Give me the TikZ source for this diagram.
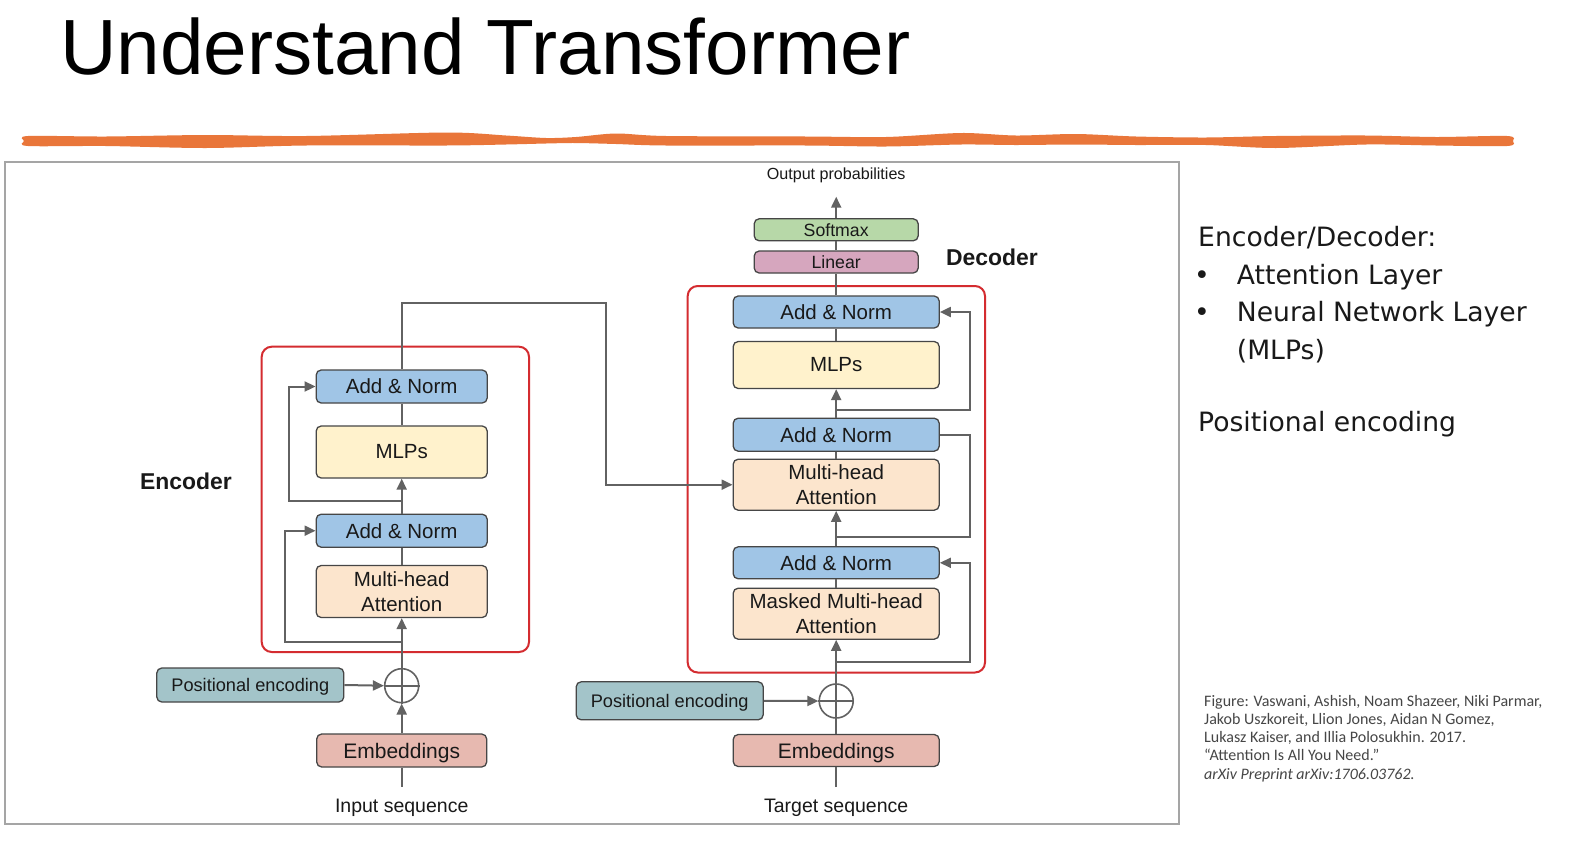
\documentclass[tikz,border=0pt]{standalone}
\usepackage{fontspec}
\setmainfont{Liberation Sans}
\newfontfamily\dfont{Liberation Sans}
\newfontfamily\rfont{DejaVu Sans}
\newfontfamily\cfont{Carlito}
\usetikzlibrary{arrows.meta,calc}
\definecolor{anc}{RGB}{160,197,230}
\definecolor{mlpc}{RGB}{255,242,204}
\definecolor{mhac}{RGB}{252,229,205}
\definecolor{softc}{RGB}{183,216,168}
\definecolor{linc}{RGB}{214,166,190}
\definecolor{pec}{RGB}{163,196,201}
\definecolor{embc}{RGB}{231,185,176}
\definecolor{redc}{RGB}{212,44,48}
\definecolor{orangec}{RGB}{233,118,58}
\definecolor{bordc}{RGB}{70,70,70}
\definecolor{linec}{RGB}{98,98,98}
\definecolor{txtc}{RGB}{25,25,25}
\definecolor{framec}{RGB}{165,165,165}
\definecolor{citec}{RGB}{70,70,70}
\tikzset{
  blk/.style={draw=bordc, line width=1.3pt, rounded corners=5pt, inner sep=0pt,
    align=center, text=txtc, font=\dfont\fontsize{20.5}{24.5}\selectfont},
  anbox/.style={blk, fill=anc},
  mlpbox/.style={blk, fill=mlpc},
  mhabox/.style={blk, fill=mhac},
  pebox/.style={blk, fill=pec, text depth=0pt, font=\dfont\fontsize{18.2}{22}\selectfont},
  embbox/.style={blk, fill=embc, text depth=0pt, font=\dfont\fontsize{21}{25}\selectfont},
  smallbox/.style={blk, font=\dfont\fontsize{17.7}{21}\selectfont},
  sumc/.style={circle, draw=linec, line width=1.6pt, minimum size=34pt, inner sep=0pt, fill=white},
  conn/.style={draw=linec, line width=2pt},
  arr/.style={conn, -{Triangle[length=11pt,width=10pt]}},
  lbl/.style={inner sep=0pt, text=txtc, font=\dfont\fontsize{19.5}{23}\selectfont},
  bold/.style={inner sep=0pt, text=txtc, font=\dfont\bfseries\fontsize{22.9}{26}\selectfont},
  redbox/.style={draw=redc, line width=2pt, rounded corners=10pt},
  rtext/.style={inner sep=0pt, anchor=base west, text=txtc, font=\rfont\fontsize{26.6}{30}\selectfont},
  rbul/.style={inner sep=0pt, anchor=base, text=txtc, font=\rfont\fontsize{26.6}{30}\selectfont},
  ctext/.style={inner sep=0pt, anchor=base west, text=citec, font=\cfont\fontsize{16}{18}\selectfont},
}
\begin{document}
\begin{tikzpicture}[x=1pt,y=-1pt]
\useasboundingbox (0,0) rectangle (1582,844);
\fill[white] (0,0) rectangle (1582,844);

% title
\node[inner sep=0pt, anchor=base west, font=\dfont\fontsize{78.3}{90}\selectfont] (title) at (60,74) {Understand Transformer};

% orange wavy line
\fill[orangec] plot[smooth cycle] coordinates {
 (28,136) (106,136.5) (206,135) (306,136) (446,132.5) (506,135.5) (546,138) (576,137) (616,133.5)
 (666,136) (806,136.5) (886,137) (961,133) (1016,135.5) (1076,134) (1136,136.5) (1206,137.5)
 (1276,136) (1366,135.5) (1436,137) (1507,136) (1513,141)
 (1507,146) (1436,145.5) (1366,144.5) (1276,148) (1206,145) (1136,145) (1076,144.5) (1016,145)
 (961,144.5) (886,146.5) (806,145.5) (666,145.5) (616,144) (576,143) (546,143.5) (506,144.5)
 (446,145.5) (306,145.5) (206,148) (106,146) (28,146) (24,141)};

% frame
\draw[framec, line width=1.8pt] (5,162) rectangle (1179,824);

% ---------------- Encoder ----------------
\draw[redbox] (261.7,346.7) rectangle (529,652);
\node[bold] (encl) at (186,481) {Encoder};

\node[anbox, minimum width=171pt, minimum height=33pt] (eAN2) at (401.7,386.5) {Add \& Norm};
\node[mlpbox, minimum width=171pt, minimum height=52pt] (eMLP) at (401.7,452) {MLPs};
\node[anbox, minimum width=171pt, minimum height=33pt] (eAN1) at (401.7,530.7) {Add \& Norm};
\node[mhabox, minimum width=171pt, minimum height=52pt] (eMHA) at (401.7,591.5) {Multi-head\\Attention};
\node[sumc] (eSum) at (401.7,685.7) {};
\node[pebox, minimum width=187pt, minimum height=34pt] (ePE) at (250.3,685) {Positional encoding};
\node[embbox, minimum width=170pt, minimum height=33pt] (eEmb) at (401.7,750.5) {Embeddings};
\node[lbl, anchor=base] (eIn) at (401.7,812) {Input sequence};
\coordinate (eInTop) at (401.7,786.7);

\draw[linec, line width=1.6pt] (eSum.north) -- (eSum.south) (eSum.west) -- (eSum.east);
\draw[conn] (eInTop) -- (eEmb.south);
\draw[arr] (eEmb.north) -- (eSum.south);
\draw[arr] (ePE.east) -- (eSum.west);
\draw[arr] (eSum.north) -- (eMHA.south);
\draw[conn] (eMHA.north) -- (eAN1.south);
\draw[arr] (eAN1.north) -- (eMLP.south);
\draw[conn] (eMLP.north) -- (eAN2.south);
\coordinate (eb1) at (401.7,641.7);
\coordinate (eb2) at (401.7,501);
\draw[arr] (eb1) -- ++(-116.7,0) |- (eAN1.west);
\draw[arr] (eb2) -- ++(-112.4,0) |- (eAN2.west);

% ---------------- Decoder ----------------
\draw[redbox] (687.7,286) rectangle (985,672.5);
\node[bold] (decl) at (992,257) {Decoder};

\node[smallbox, fill=softc, minimum width=164pt, minimum height=22pt] (soft) at (836.2,229.8) {Softmax};
\node[smallbox, fill=linc, minimum width=164pt, minimum height=22pt] (lin) at (836.2,262) {Linear};
\node[anbox, minimum width=206pt, minimum height=32pt] (dAN3) at (836.2,312) {Add \& Norm};
\node[mlpbox, minimum width=206pt, minimum height=47pt] (dMLP) at (836.2,365) {MLPs};
\node[anbox, minimum width=206pt, minimum height=33pt] (dAN2) at (836.2,434.7) {Add \& Norm};
\node[mhabox, minimum width=206pt, minimum height=51pt] (dMHA) at (836.2,484.7) {Multi-head\\Attention};
\node[anbox, minimum width=206pt, minimum height=32pt] (dAN1) at (836.2,562.8) {Add \& Norm};
\node[mhabox, minimum width=206pt, minimum height=51pt] (dMMHA) at (836.2,613.7) {Masked Multi-head\\Attention};
\node[sumc] (dSum) at (836.2,701) {};
\node[pebox, minimum width=187pt, minimum height=38pt] (dPE) at (669.7,700.8) {Positional encoding};
\node[embbox, minimum width=206pt, minimum height=32pt] (dEmb) at (836.2,750.5) {Embeddings};
\node[lbl, anchor=base] (dTgt) at (836.2,812) {Target sequence};
\coordinate (dInTop) at (836.2,787);
\node[inner sep=0pt, anchor=base, text=txtc, font=\dfont\fontsize{16.1}{18}\selectfont] (outp) at (836.2,179) {Output probabilities};
\coordinate (outTip) at (836.2,196.7);

\draw[linec, line width=1.6pt] (dSum.north) -- (dSum.south) (dSum.west) -- (dSum.east);
\draw[conn] (dInTop) -- (dEmb.south);
\draw[conn] (dEmb.north) -- (dSum.south);
\draw[arr] (dPE.east) -- (dSum.west);
\draw[arr] (dSum.north) -- (dMMHA.south);
\draw[conn] (dMMHA.north) -- (dAN1.south);
\draw[arr] (dAN1.north) -- (dMHA.south);
\draw[conn] (dMHA.north) -- (dAN2.south);
\draw[arr] (dAN2.north) -- (dMLP.south);
\draw[conn] (dMLP.north) -- (dAN3.south);
\draw[conn] (dAN3.north) -- (lin.south);
\draw[conn] (lin.north) -- (soft.south);
\draw[arr] (soft.north) -- (outTip);

\coordinate (db1) at (836.2,661.7);
\coordinate (db2) at (836.2,537.3);
\coordinate (db3) at (836.2,410);
\draw[arr] (db1) -- ++(133.3,0) |- (dAN1.east);
\draw[conn] (dAN2.east) -- ++(30.2,0) |- (db2);
\draw[arr] (db3) -- ++(133.3,0) |- (dAN3.east);

% cross connection
\coordinate (cr1) at (605.7,302.7);
\draw[arr] (eAN2.north) |- (cr1) |- (dMHA.west);

% ---------------- right text ----------------
\node[rtext] (r1) at (1198,246.7) {Encoder/Decoder:};
\node[rbul] (b1) at (1202,284.2) {•};
\node[rtext] (r2) at (1236.7,284.2) {Attention Layer};
\node[rbul] (b2) at (1202,321.7) {•};
\node[rtext] (r3) at (1236.7,321.7) {Neural Network Layer};
\node[rtext] (r4) at (1236.7,359.2) {(MLPs)};
\node[rtext] (r5) at (1198,431.7) {Positional encoding};

% citation
\node[ctext] (c1) at (1204,706) {Figure: Vaswani, Ashish, Noam Shazeer, Niki Parmar,};
\node[ctext] (c2) at (1204,724.3) {Jakob Uszkoreit, Llion Jones, Aidan N Gomez,};
\node[ctext] (c3) at (1204,742.6) {Lukasz Kaiser, and Illia Polosukhin. 2017.};
\node[ctext] (c4) at (1204,760.9) {“Attention Is All You Need.”};
\node[ctext] (c5) at (1204,779.2) {\itshape arXiv Preprint arXiv:1706.03762.};
\end{tikzpicture}
\end{document}
